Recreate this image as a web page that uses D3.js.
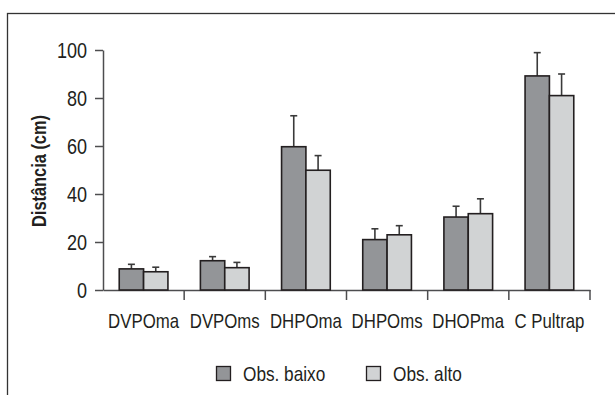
<!DOCTYPE html>
<html><head><meta charset="utf-8">
<script src="https://cdn.jsdelivr.net/npm/d3@7"></script>
<style>
html,body{margin:0;padding:0;background:#fff;}
text{font-family:"Liberation Sans",Arial,sans-serif;fill:#231f20;}
</style></head>
<body><svg id="c" width="615" height="395"></svg>
<script>
const categories = ["DVPOma","DVPOms","DHPOma","DHPOms","DHOPma","C Pultrap"];
const seriesNames = ["Obs. baixo","Obs. alto"];
const baixo = [8.8, 12.2, 59.7, 21, 30.4, 89.2];
const baixoErr = [1.9, 1.7, 12.9, 4.5, 4.5, 9.7];
const alto = [7.6, 9.3, 49.9, 23, 31.8, 81];
const altoErr = [1.9, 2.2, 6.1, 3.8, 6.2, 9];
const yTicks = [0,20,40,60,80,100];
const colors = ["#939598","#d1d3d4"];
const NARROW = 0.82;

const svg = d3.select("#c");
svg.append("rect").attr("x",7.5).attr("y",13.5).attr("width",700).attr("height",500)
  .attr("fill","none").attr("stroke","#333").attr("stroke-width",1.3);

const x = d3.scaleBand().domain(categories).range([103,590]).padding(0);
const x1 = d3.scaleBand().domain(seriesNames).range([x.bandwidth()*0.2, x.bandwidth()*0.8]).padding(0);
const y = d3.scaleLinear().domain([0,100]).range([290,50]);

const axisCol = "#4d4d4f";
// y axis
const ya = svg.append("g").attr("transform","translate(103,0)")
  .call(d3.axisLeft(y).tickValues(yTicks).tickSize(8).tickSizeOuter(0));
ya.select(".domain").attr("stroke",axisCol).attr("stroke-width",1.5);
ya.selectAll(".tick line").attr("stroke",axisCol).attr("stroke-width",1.5);
ya.selectAll(".tick text")
  .attr("x",0).attr("dy","0.36em")
  .attr("transform",`translate(-16,0) scale(${NARROW},1)`)
  .attr("font-size",22).style("font-family","'Liberation Sans',Arial,sans-serif").attr("fill","#231f20");

// x axis
const xa = svg.append("g").attr("transform","translate(0,290)")
  .call(d3.axisBottom(x).tickSize(0).tickSizeOuter(0));
xa.select(".domain").attr("stroke",axisCol).attr("stroke-width",1.5);
xa.selectAll(".tick line").remove();
xa.selectAll(".tick text")
  .attr("y",0).attr("dy",0)
  .attr("transform",`translate(0,37.5) scale(${NARROW},1)`)
  .attr("font-size",20.5).style("font-family","'Liberation Sans',Arial,sans-serif").attr("fill","#231f20");
svg.append("g").selectAll("line").data(categories).join("line")
  .attr("x1",d=>x(d)+x.bandwidth()).attr("x2",d=>x(d)+x.bandwidth())
  .attr("y1",290).attr("y2",300).attr("stroke",axisCol).attr("stroke-width",1.5);

// bars
const data = categories.map((c,i)=>({c, vals:[{s:seriesNames[0],v:baixo[i],e:baixoErr[i],k:0},{s:seriesNames[1],v:alto[i],e:altoErr[i],k:1}]}));
const g = svg.append("g").selectAll("g").data(data).join("g")
  .attr("transform",d=>`translate(${x(d.c)},0)`);
g.selectAll("line.err").data(d=>d.vals).join("line").attr("class","err")
  .attr("x1",d=>x1(d.s)+x1.bandwidth()/2).attr("x2",d=>x1(d.s)+x1.bandwidth()/2)
  .attr("y1",d=>y(d.v)).attr("y2",d=>y(d.v+d.e)).attr("stroke","#3a3a3a").attr("stroke-width",1.6);
g.selectAll("line.cap").data(d=>d.vals).join("line").attr("class","cap")
  .attr("x1",d=>x1(d.s)+x1.bandwidth()/2-3.5).attr("x2",d=>x1(d.s)+x1.bandwidth()/2+3.5)
  .attr("y1",d=>y(d.v+d.e)).attr("y2",d=>y(d.v+d.e)).attr("stroke","#3a3a3a").attr("stroke-width",1.6);
g.selectAll("rect").data(d=>d.vals).join("rect")
  .attr("x",d=>x1(d.s)).attr("width",x1.bandwidth())
  .attr("y",d=>y(d.v)).attr("height",d=>y(0)-y(d.v))
  .attr("fill",d=>colors[d.k]).attr("stroke","#231f20").attr("stroke-width",1.6);

// y title
svg.append("text").attr("transform",`translate(46,171) rotate(-90) scale(${NARROW},1)`)
  .attr("text-anchor","middle").attr("font-size",20).attr("font-weight","bold")
  .text("Distância (cm)");

// legend
const legX = [216, 366];
const lg = svg.append("g").selectAll("g").data(seriesNames).join("g")
  .attr("transform",(d,i)=>`translate(${legX[i]},366)`);
lg.append("rect").attr("x",0.5).attr("y",0.5).attr("width",14).attr("height",14)
  .attr("fill",(d,i)=>colors[i]).attr("stroke","#231f20").attr("stroke-width",1.3);
lg.append("text").attr("transform",`translate(27,14.5) scale(${NARROW},1)`).attr("font-size",21).text(d=>d);
</script></body></html>
